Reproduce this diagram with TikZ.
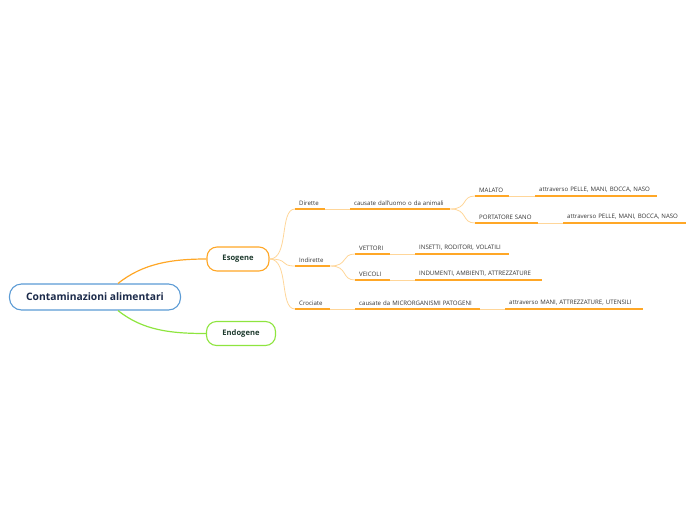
\documentclass[tikz,border=0pt]{standalone}
\usepackage{fontspec}
\setmainfont{Open Sans}
\usetikzlibrary{calc}
\usepackage{xcolor}
\definecolor{ink}{HTML}{333333}
\definecolor{navy}{HTML}{1B2A4A}
\definecolor{deep}{HTML}{1E3A2E}
\definecolor{rootline}{HTML}{5B9BD5}
\definecolor{orange}{HTML}{FFA726}
\definecolor{pale}{HTML}{FFD699}
\definecolor{lime}{HTML}{8EE53F}
\tikzset{
  every node/.style={text=ink},
  rootbox/.style={draw=rootline,line width=1.1pt,rounded corners=12pt,fill=white,minimum width=171pt,minimum height=26pt,font=\fontsize{10.3}{12}\selectfont\bfseries,text=navy},
  mainbox/.style={draw=orange,line width=1.1pt,rounded corners=10pt,fill=white,minimum height=24pt,font=\fontsize{7.6}{9}\selectfont\bfseries,text=deep},
  endobox/.style={mainbox,draw=lime},
  topic/.style={anchor=south west,inner xsep=4pt,inner ysep=3.5pt,align=left,font=\fontsize{6.1}{7}\selectfont},
  uline/.style={draw=orange,line width=1.3pt},
  thin/.style={draw=pale,line width=0.8pt},
  orangelink/.style={draw=orange,line width=1.2pt},
  limelink/.style={draw=lime,line width=1.2pt},
}

\begin{document}
\begin{tikzpicture}[x=1pt,y=-1pt]
  \useasboundingbox (0,0) rectangle (696,520);

  \node[rootbox] (root) at (95,297) {Contaminazioni alimentari};
  \node[mainbox,minimum width=62pt] (esogene) at (238,259) {Esogene};
  \node[endobox,minimum width=69pt] (endogene) at (241,333.5) {Endogene};
  \draw[orangelink] ($(root.north)+(23,0)$) .. controls +(25,-20) and +(-35,0) .. (esogene.west);
  \draw[limelink] ($(root.south)+(23,0)$) .. controls +(25,20) and +(-35,0) .. (endogene.west);

  % Dirette
  \node[topic,text width=22pt] (dirette) at (295,209) {Dirette};
  \node[topic,text width=92pt] (causdir) at (350,209) {causate dall'uomo o da animali};
  \node[topic,text width=26pt] (malato) at (475,196) {MALATO};
  \node[topic,text width=114pt] (attrmal) at (535,196) {attraverso PELLE, MANI, BOCCA, NASO};
  \node[topic,text width=55pt] (portatore) at (475,223) {PORTATORE SANO};
  \node[topic,text width=115pt] (attrport) at (563,223) {attraverso PELLE, MANI, BOCCA, NASO};

  % Indirette
  \node[topic,text width=27pt] (indirette) at (295,266) {Indirette};
  \node[topic,text width=27pt] (vettori) at (355,254) {VETTORI};
  \node[topic,text width=86pt] (insetti) at (415,254) {INSETTI, RODITORI, VOLATILI};
  \node[topic,text width=27pt] (veicoli) at (355,280) {VEICOLI};
  \node[topic,text width=119pt] (indumenti) at (415,280) {INDUMENTI, AMBIENTI, ATTREZZATURE};

  % Crociate
  \node[topic,text width=27pt] (crociate) at (295,309) {Crociate};
  \node[topic,text width=117pt] (causcroc) at (355,309) {causate da MICRORGANISMI PATOGENI};
  \node[topic,text width=130pt] (attrcroc) at (505,309) {attraverso MANI, ATTREZZATURE, UTENSILI};

  \foreach \n in {dirette,indirette,crociate}
    \draw[thin] (esogene.east) .. controls +(20,0) and +(-16,0) .. (\n.south west);
  \foreach \n in {malato,portatore}
    \draw[thin] (causdir.south east) .. controls +(18,0) and +(-14,0) .. (\n.south west);
  \foreach \n in {vettori,veicoli}
    \draw[thin] (indirette.south east) .. controls +(18,0) and +(-14,0) .. (\n.south west);
  \draw[thin] (dirette.south east) -- (causdir.south west);
  \draw[thin] (malato.south east) -- (attrmal.south west);
  \draw[thin] (portatore.south east) -- (attrport.south west);
  \draw[thin] (vettori.south east) -- (insetti.south west);
  \draw[thin] (veicoli.south east) -- (indumenti.south west);
  \draw[thin] (crociate.south east) -- (causcroc.south west);
  \draw[thin] (causcroc.south east) -- (attrcroc.south west);

  \foreach \n in {dirette,causdir,malato,attrmal,portatore,attrport,indirette,vettori,insetti,veicoli,indumenti,crociate,causcroc,attrcroc}
    \draw[uline] (\n.south west) -- (\n.south east);
\end{tikzpicture}
\end{document}
